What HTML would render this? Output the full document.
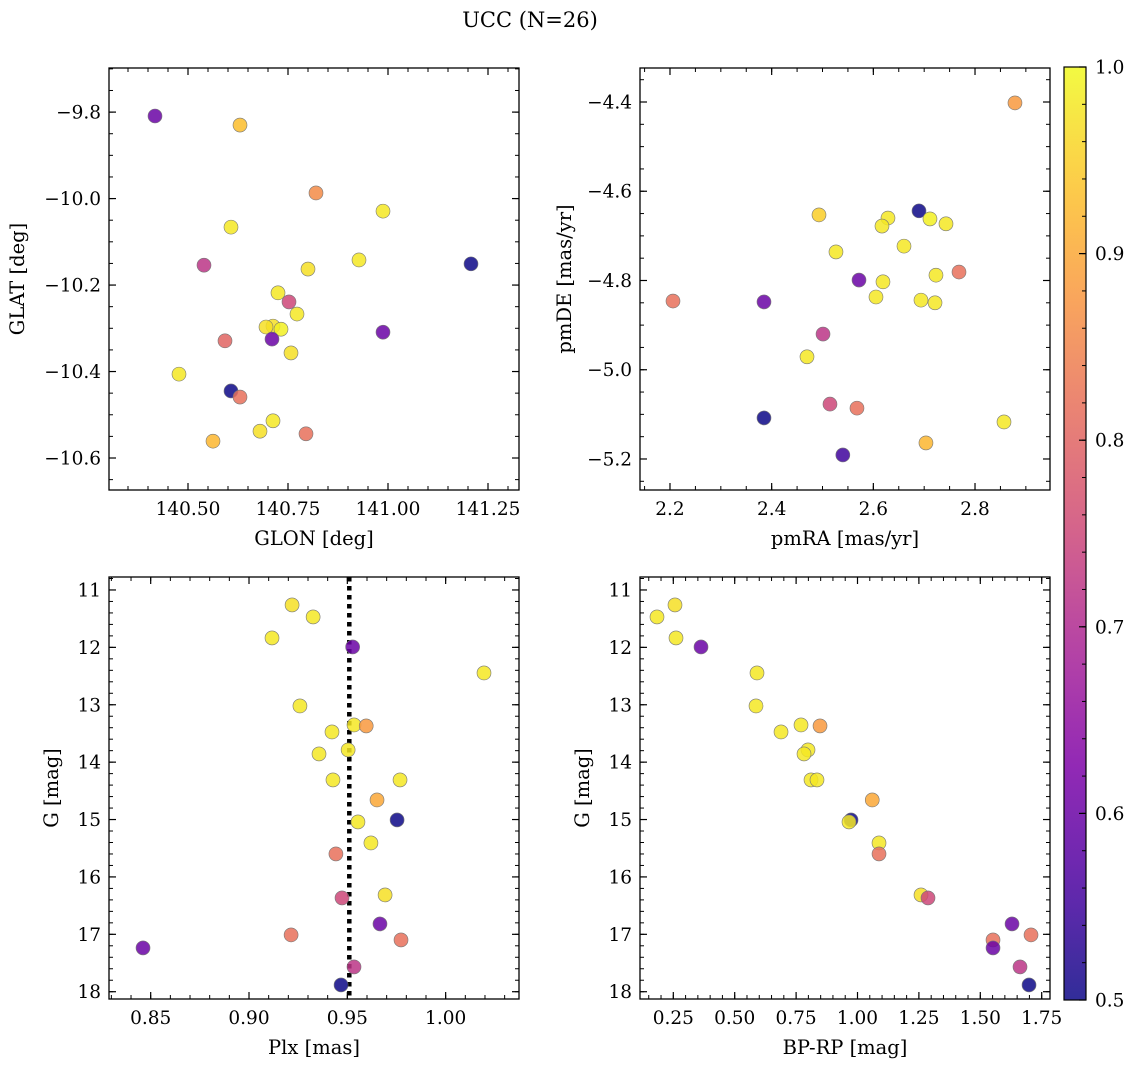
<!DOCTYPE html>
<html><head><meta charset="utf-8">
<style>
html,body{margin:0;padding:0;background:#fff;}
svg{display:block;font-family:"DejaVu Serif","Liberation Serif",serif;}
</style></head>
<body>
<svg id="fig" width="1136" height="1067" viewBox="0 0 1136 1067" xmlns="http://www.w3.org/2000/svg">
<text x="530" y="27" font-size="21" text-anchor="middle">UCC (N=26)</text>
</svg>
<script>
// ---- data ----
const p1_glon=[140.4175,140.63,140.82,140.9875,140.6075,140.9275,140.54,141.2075,140.80,140.725,140.7525,140.7725,140.7125,140.695,140.7325,140.9875,140.5925,140.71,140.7575,140.4775,140.6075,140.63,140.7125,140.68,140.795,140.5625];
const p1_glat=[-9.809,-9.830,-9.987,-10.029,-10.066,-10.142,-10.154,-10.151,-10.163,-10.218,-10.239,-10.267,-10.295,-10.297,-10.302,-10.309,-10.329,-10.325,-10.357,-10.406,-10.445,-10.459,-10.514,-10.538,-10.544,-10.561];
const p1_prob=[0.6,0.93,0.86,0.98,0.98,0.98,0.72,0.5,0.97,0.98,0.75,0.98,0.97,0.97,0.99,0.6,0.8,0.6,0.97,0.98,0.5,0.82,0.98,0.97,0.82,0.92];

const p2_pmra=[2.8786,2.6898,2.4931,2.6288,2.7114,2.7429,2.617,2.6603,2.5265,2.619,2.5718,2.7685,2.7232,2.6052,2.6937,2.7213,2.2059,2.3849,2.501,2.4695,2.5147,2.5678,2.857,2.3849,2.7035,2.54];
const p2_pmde=[-4.402,-4.644,-4.653,-4.660,-4.662,-4.673,-4.678,-4.723,-4.736,-4.803,-4.799,-4.781,-4.788,-4.837,-4.844,-4.850,-4.846,-4.848,-4.920,-4.971,-5.077,-5.086,-5.117,-5.108,-5.164,-5.191];
const p2_prob=[0.88,0.5,0.95,0.98,0.99,0.98,0.98,0.98,0.98,0.98,0.6,0.82,0.98,0.98,0.98,0.98,0.82,0.6,0.72,0.98,0.75,0.82,0.98,0.5,0.92,0.55];

const p3_plx=[0.9219,0.9326,0.9117,0.9527,1.0195,0.9259,0.9534,0.9596,0.9422,0.9504,0.9356,0.9427,0.9768,0.9651,0.9753,0.9554,0.9620,0.9442,0.9692,0.9473,0.9666,0.9214,0.9773,0.8461,0.9534,0.9468];
const p3_g=[11.261,11.470,11.836,11.993,12.446,13.021,13.352,13.369,13.474,13.787,13.857,14.310,14.310,14.659,15.007,15.042,15.408,15.599,16.314,16.366,16.819,17.010,17.098,17.237,17.568,17.882];
const p3_prob=[0.97,0.98,0.98,0.6,0.98,0.98,0.98,0.88,0.98,0.98,0.98,0.98,0.98,0.9,0.5,0.98,0.98,0.82,0.97,0.75,0.6,0.82,0.82,0.6,0.72,0.5];
const plx_median=[0.951];

const p4_bprp=[0.2569,0.1836,0.2610,0.3628,0.5908,0.5868,0.7700,0.8474,0.6886,0.7985,0.7822,0.8107,0.8351,1.06,0.9736,0.9654,1.0876,1.0876,1.2586,1.2871,1.6292,1.7065,1.5518,1.5518,1.6617,1.6984];
const p4_g=[11.261,11.470,11.836,11.993,12.446,13.021,13.352,13.369,13.474,13.787,13.857,14.310,14.310,14.659,15.007,15.042,15.408,15.599,16.314,16.366,16.819,17.010,17.098,17.237,17.568,17.882];
const p4_prob=[0.97,0.98,0.98,0.6,0.98,0.98,0.98,0.88,0.98,0.98,0.98,0.98,0.98,0.9,0.5,0.98,0.98,0.82,0.97,0.75,0.6,0.82,0.82,0.6,0.72,0.5];

const p1_xticks=[140.5,140.75,141.0,141.25];
const p1_yticks=[-9.8,-10.0,-10.2,-10.4,-10.6];
const p2_xticks=[2.2,2.4,2.6,2.8];
const p2_yticks=[-4.4,-4.6,-4.8,-5.0,-5.2];
const p3_xticks=[0.85,0.90,0.95,1.00];
const g_yticks=[11,12,13,14,15,16,17,18];
const p4_xticks=[0.25,0.5,0.75,1.0,1.25,1.5,1.75];
const cb_ticks=[0.5,0.6,0.7,0.8,0.9,1.0];

// ---- helpers ----
const NS='http://www.w3.org/2000/svg';
const svg=document.getElementById('fig');
const TF=18.5, LF=19.5;
function mk(tag,attrs,parent){const e=document.createElementNS(NS,tag);for(const k in attrs)e.setAttribute(k,attrs[k]);(parent||svg).appendChild(e);return e;}
const stops=[[13,8,135],[76,2,161],[126,3,168],[168,34,150],[204,71,120],[229,107,93],[248,149,64],[253,195,40],[240,249,33]];
function plasma(p){let t=(p-0.5)/0.5;t=Math.max(0,Math.min(1,t));const f=t*(stops.length-1);const i=Math.min(stops.length-2,Math.floor(f));const u=f-i;const a=stops[i],b=stops[i+1];return 'rgb('+[0,1,2].map(k=>Math.round(a[k]+(b[k]-a[k])*u)).join(',')+')';}
function fmt(v,d){return (v<0?'\u2212':'')+Math.abs(v).toFixed(d);}

function panel(cfg){
  const g=mk('g',{});
  
  
  const L=cfg.L,T=cfg.T,W=cfg.W,H=cfg.H;
  const sx=v=>L+(v-cfg.x0)/(cfg.x1-cfg.x0)*W;
  const sy=v=>T+(v-cfg.yTop)/(cfg.yBot-cfg.yTop)*H;
  const xmin=Math.min(cfg.x0,cfg.x1),xmax=Math.max(cfg.x0,cfg.x1);
  for(let v=Math.ceil(xmin/cfg.xminor-1e-6)*cfg.xminor;v<=xmax+1e-9;v+=cfg.xminor){const x=sx(v);
    mk('line',{x1:x,x2:x,y1:T+H,y2:T+H-4,stroke:'#000','stroke-width':1},g);
    mk('line',{x1:x,x2:x,y1:T,y2:T+4,stroke:'#000','stroke-width':1},g);}
  const ymin=Math.min(cfg.yTop,cfg.yBot),ymax=Math.max(cfg.yTop,cfg.yBot);
  for(let v=Math.ceil(ymin/cfg.yminor-1e-6)*cfg.yminor;v<=ymax+1e-9;v+=cfg.yminor){const y=sy(v);
    mk('line',{x1:L,x2:L+4,y1:y,y2:y,stroke:'#000','stroke-width':1},g);
    mk('line',{x1:L+W,x2:L+W-4,y1:y,y2:y,stroke:'#000','stroke-width':1},g);}
  cfg.xticks.forEach(v=>{const x=sx(v);
    mk('line',{x1:x,x2:x,y1:T+H,y2:T+H-7,stroke:'#000','stroke-width':1.2},g);
    mk('line',{x1:x,x2:x,y1:T,y2:T+7,stroke:'#000','stroke-width':1.2},g);
    const t=mk('text',{x:x,y:T+H+25,'font-size':TF,'text-anchor':'middle'},g);t.textContent=fmt(v,cfg.xd);
    
    });
  cfg.yticks.forEach(v=>{const y=sy(v);
    mk('line',{x1:L,x2:L+7,y1:y,y2:y,stroke:'#000','stroke-width':1.2},g);
    mk('line',{x1:L+W,x2:L+W-7,y1:y,y2:y,stroke:'#000','stroke-width':1.2},g);
    const t=mk('text',{x:L-8,y:y+6.5,'font-size':TF,'text-anchor':'end'},g);t.textContent=fmt(v,cfg.yd);
    
    });
  if(cfg.vline!==undefined){const x=sx(cfg.vline);
    const ln=mk('line',{x1:x,x2:x,y1:T,y2:T+H,stroke:'#000','stroke-width':4.5,'stroke-dasharray':'4.5,4.5'},g);
    
    }
  cfg.xs.forEach((v,i)=>{
    const c=mk('circle',{cx:sx(v),cy:sy(cfg.ys[i]),r:7,fill:plasma(cfg.ps[i]),'fill-opacity':0.85,stroke:'#777','stroke-width':0.6},g);
    
    });
  const fr=mk('rect',{x:L,y:T,width:W,height:H,fill:'none',stroke:'#000','stroke-width':1.3},g);
  
  
  const xl=mk('text',{x:L+W/2,y:T+H+55,'font-size':LF,'text-anchor':'middle'},g);xl.textContent=cfg.xlabel;
  
  
  const yl=mk('text',{x:0,y:0,'font-size':LF,'text-anchor':'middle',transform:'translate('+cfg.ylx+','+(T+H/2)+') rotate(-90)'},g);yl.textContent=cfg.ylabel;
  
  
}

panel({name:'glon-glat-panel',L:109,T:68,W:410,H:422,x0:140.3025,x1:141.3275,yTop:-9.698,yBot:-10.674,xminor:0.05,yminor:0.05,xticks:p1_xticks,yticks:p1_yticks,xd:2,yd:1,xs:p1_glon,ys:p1_glat,ps:p1_prob,xlabel:'GLON [deg]',ylabel:'GLAT [deg]',ylx:24});
panel({name:'pm-panel',L:640,T:68,W:410,H:422,x0:2.141,x1:2.9475,yTop:-4.3238,yBot:-5.2695,xminor:0.05,yminor:0.05,xticks:p2_xticks,yticks:p2_yticks,xd:1,yd:1,xs:p2_pmra,ys:p2_pmde,ps:p2_prob,xlabel:'pmRA [mas/yr]',ylabel:'pmDE [mas/yr]',ylx:571});
panel({name:'plx-g-panel',L:109,T:577,W:410,H:422,x0:0.8288,x1:1.0373,yTop:10.774,yBot:18.127,xminor:0.01,yminor:0.2,xticks:p3_xticks,yticks:g_yticks,xd:2,yd:0,xs:p3_plx,ys:p3_g,ps:p3_prob,xlabel:'Plx [mas]',ylabel:'G [mag]',ylx:58,vline:plx_median[0]});
panel({name:'cmd-panel',L:640,T:577,W:410,H:422,x0:0.1144,x1:1.7838,yTop:10.774,yBot:18.127,xminor:0.05,yminor:0.2,xticks:p4_xticks,yticks:g_yticks,xd:2,yd:0,xs:p4_bprp,ys:p4_g,ps:p4_prob,xlabel:'BP-RP [mag]',ylabel:'G [mag]',ylx:589});

// colorbar
(function(){
  const g=mk('g',{});
  
  
  const L=1064,T=67,W=22,H=933;
  const defs=mk('defs',{},g);
  const lg=mk('linearGradient',{id:'cbg',x1:0,y1:1,x2:0,y2:0},defs);
  for(let i=0;i<=20;i++){const p=0.5+i/40;mk('stop',{offset:(i/20),'stop-color':plasma(p),'stop-opacity':0.85},lg);}
  mk('rect',{x:L,y:T,width:W,height:H,fill:'url(#cbg)',stroke:'#000','stroke-width':1.2},g);
  const sy=v=>T+(1.0-v)/0.5*H;
  for(let v=0.5;v<=1.0001;v+=0.02){const y=sy(v);mk('line',{x1:L+W,x2:L+W-4,y1:y,y2:y,stroke:'#000','stroke-width':1},g);}
  cb_ticks.forEach(v=>{const y=sy(v);
    mk('line',{x1:L+W,x2:L+W-7,y1:y,y2:y,stroke:'#000','stroke-width':1.2},g);
    const t=mk('text',{x:L+W+9,y:y+6.5,'font-size':TF},g);t.textContent=v.toFixed(1);
    
    });
})();
</script>
</body></html>
